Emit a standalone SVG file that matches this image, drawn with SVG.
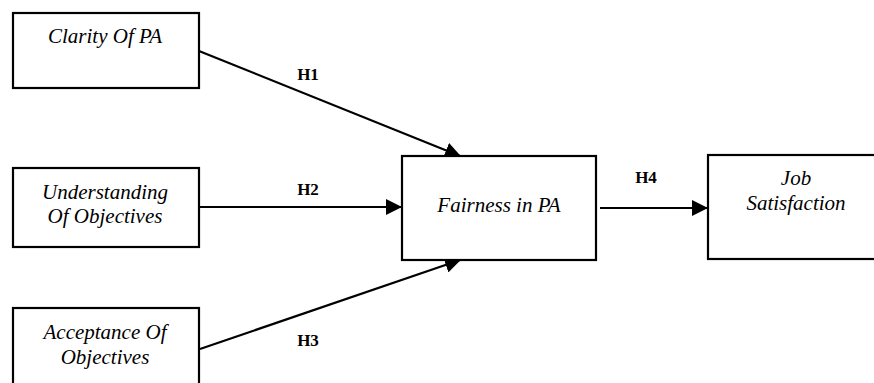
<svg xmlns="http://www.w3.org/2000/svg" width="874" height="383" viewBox="0 0 874 383">
<style>
.box{fill:#fff;stroke:#000;stroke-width:2.2}
.t{font-family:"Liberation Serif",serif;font-style:italic;font-size:21px;text-anchor:middle;fill:#000}
.h{font-family:"Liberation Serif",serif;font-weight:bold;font-size:17px;text-anchor:middle;fill:#000}
.c{stroke:#000;stroke-width:2.2;fill:none;marker-end:url(#ah)}
</style>
<defs>
<marker id="ah" markerWidth="16" markerHeight="16" refX="15" refY="8" orient="auto" markerUnits="userSpaceOnUse" viewBox="0 0 16 16">
<path d="M0,0 L16,8 L0,16 Z" fill="#000"/>
</marker>
</defs>
<g id="connectors">
<line class="c" x1="199" y1="51" x2="460" y2="156"/>
<line class="c" x1="199" y1="207" x2="401" y2="207"/>
<line class="c" x1="200" y1="349" x2="460" y2="260"/>
<line class="c" x1="600" y1="208" x2="707" y2="208"/>
<text class="h" x="308" y="80">H1</text>
<text class="h" x="308" y="195">H2</text>
<text class="h" x="308" y="346">H3</text>
<text class="h" x="646" y="183">H4</text>
</g>
<g id="clarity">
<rect class="box" x="13" y="13" width="186" height="75"/>
<text class="t" x="105" y="43">Clarity Of PA</text>
</g>
<g id="understanding">
<rect class="box" x="13" y="168" width="186" height="79"/>
<text class="t" x="105" y="199">Understanding</text>
<text class="t" x="105" y="223">Of Objectives</text>
</g>
<g id="acceptance">
<rect class="box" x="13" y="308" width="186" height="85"/>
<text class="t" x="105" y="339">Acceptance Of</text>
<text class="t" x="105" y="364">Objectives</text>
</g>
<g id="fairness">
<rect class="box" x="402" y="156" width="194" height="104"/>
<text class="t" x="499" y="212">Fairness in PA</text>
</g>
<g id="job">
<rect class="box" x="708" y="155" width="180" height="104"/>
<text class="t" x="796" y="185">Job</text>
<text class="t" x="796" y="210">Satisfaction</text>
</g>
</svg>
